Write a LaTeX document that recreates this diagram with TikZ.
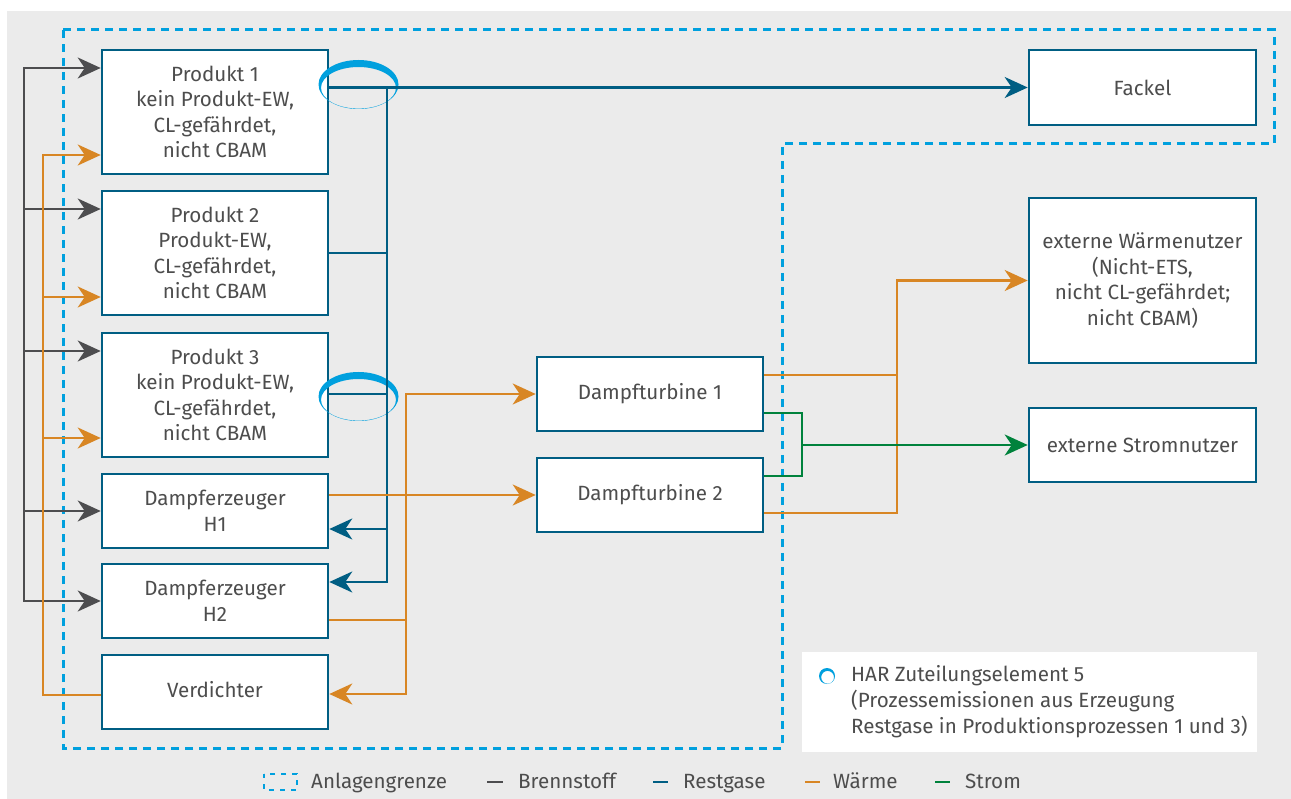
\documentclass[tikz,border=0pt]{standalone}
\usepackage{fontspec}
\setmainfont{Fira Sans}
\usetikzlibrary{arrows.meta}
\definecolor{bgc}{RGB}{235,235,235}
\definecolor{boxc}{RGB}{0,94,131}
\definecolor{fuelc}{RGB}{77,77,79}
\definecolor{heatc}{RGB}{216,134,36}
\definecolor{powc}{RGB}{0,130,60}
\definecolor{limc}{RGB}{0,160,222}
\definecolor{txtc}{RGB}{77,77,77}
\begin{document}
\begin{tikzpicture}[x=1pt,y=-1pt,
  box/.style={draw=boxc, line width=2.6pt, fill=white, minimum width=226pt, align=center,
    text=txtc, font=\fontsize{20.6}{25.5}\selectfont, inner sep=0pt},
  conn/.style={line width=2.6pt},
  fuel/.style={conn, draw=fuelc},
  rest/.style={conn, draw=boxc},
  heat/.style={conn, draw=heatc},
  pow/.style={conn, draw=powc},
  tip/.style={-{Stealth[length=23pt,width=21pt,inset=7pt]}},
  leg/.style={text=txtc, font=\fontsize{20.6}{26}\selectfont, inner sep=0pt},
  boundary/.style={draw=limc, line width=3pt, dash pattern=on 8pt off 6pt}]
\useasboundingbox (0,0) rectangle (1291,799);
\fill[bgc] (7,11) rectangle (1291,799);

% installation boundary
\draw[boundary] (63,30) -- (1274,30) -- (1274,144) -- (782,144) -- (782,748) -- (63,748) -- cycle;

% boxes
\node[box, minimum height=124pt] (P1) at (215,112) {Produkt 1\\kein Produkt-EW,\\CL-gefährdet,\\nicht CBAM};
\node[box, minimum height=124pt] (P2) at (215,253) {Produkt 2\\Produkt-EW,\\CL-gefährdet,\\nicht CBAM};
\node[box, minimum height=124pt] (P3) at (215,395) {Produkt 3\\kein Produkt-EW,\\CL-gefährdet,\\nicht CBAM};
\node[box, minimum height=74pt] (H1) at (215,511) {Dampferzeuger\\H1};
\node[box, minimum height=74pt] (H2) at (215,601) {Dampferzeuger\\H2};
\node[box, minimum height=74pt, text depth=6pt] (V) at (215,692) {Verdichter};
\node[box, minimum height=74pt] (DT1) at (650,394) {Dampfturbine 1};
\node[box, minimum height=74pt] (DT2) at (650,495) {Dampfturbine 2};
\node[box, minimum width=227pt, minimum height=75pt] (F) at (1142.5,87.5) {Fackel};
\node[box, minimum width=227pt, minimum height=165pt] (WN) at (1142.5,280.5) {externe Wärmenutzer\\(Nicht-ETS,\\nicht CL-gefährdet;\\nicht CBAM)};
\node[box, minimum width=227pt, minimum height=74pt] (SN) at (1142.5,445) {externe Stromnutzer};

% HAR markers
\fill[limc, even odd rule] (358.5,84.5) ellipse [x radius=40pt, y radius=24.5pt]
  (358.5,87.8) ellipse [x radius=37.5pt, y radius=20.8pt];
\fill[limc, even odd rule] (358.5,396.5) ellipse [x radius=40pt, y radius=24.5pt]
  (358.5,399.8) ellipse [x radius=37.5pt, y radius=20.8pt];

% Brennstoff
\coordinate (f1) at (24,68);
\coordinate (f2) at (24,209);
\coordinate (f3) at (24,351);
\coordinate (f4) at (24,511);
\coordinate (f5) at (24,601);
\draw[fuel,tip] (f5) -- (f1) -- (f1 -| P1.west);
\draw[fuel,tip] (f1) -- (f5) -- (f5 -| H2.west);
\draw[fuel,tip] (f2) -- (f2 -| P2.west);
\draw[fuel,tip] (f3) -- (f3 -| P3.west);
\draw[fuel,tip] (f4) -- (f4 -| H1.west);

% Waerme (Verdichter -> Produkte)
\coordinate (w1) at (43,155);
\coordinate (w2) at (43,297);
\coordinate (w3) at (43,438);
\coordinate (w4) at (43,695);
\draw[heat,tip] (V.west |- w4) -- (w4) -- (w1) -- (w1 -| P1.west);
\draw[heat,tip] (w2) -- (w2 -| P2.west);
\draw[heat,tip] (w3) -- (w3 -| P3.west);

% Restgase
\coordinate (r1) at (387,87.5);
\coordinate (r2) at (387,253);
\coordinate (r3) at (387,394);
\coordinate (r4) at (387,529);
\coordinate (r5) at (387,582);
\draw[rest,tip] (P1.east |- F.west) -- (F.west);
\draw[rest,tip] (r1) -- (r5) -- (r5 -| H2.east);
\draw[rest] (P2.east |- r2) -- (r2);
\draw[rest] (P3.east |- r3) -- (r3);
\draw[rest,tip] (r4) -- (r4 -| H1.east);

% Waerme (Dampferzeuger)
\coordinate (m1) at (406,394);
\coordinate (m2) at (406,620);
\coordinate (m3) at (406,694);
\draw[heat,tip] (H1.east |- DT2.west) -- (DT2.west);
\draw[heat] (H2.east |- m2) -- (m2);
\draw[heat,tip] (m3) -- (m1) -- (DT1.west);
\draw[heat,tip] (m1) -- (m3) -- (m3 -| V.east);

% Waerme (Dampfturbinen -> externe)
\coordinate (o1) at (897,375);
\coordinate (o2) at (897,513);
\draw[heat] (DT1.east |- o1) -- (o1);
\draw[heat,tip] (DT2.east |- o2) -- (o2) -- (o2 |- WN.west) -- (WN.west);

% Strom
\coordinate (s1) at (802,413);
\coordinate (s2) at (802,476);
\draw[pow] (DT1.east |- s1) -- (s1) -- (s2) -- (DT2.east |- s2);
\draw[pow,tip] (s1 |- SN.west) -- (SN.west);

% HAR legend box
\fill[white] (802,652) rectangle (1257,752);
\fill[limc, even odd rule] (827,676) circle [radius=8pt] (827.6,677.3) circle [radius=6.4pt];
\node[leg, anchor=west, align=left] (hartxt) at (851,702) {HAR Zuteilungselement 5\\(Prozessemissionen aus Erzeugung\\Restgase in Produktionsprozessen 1 und 3)};

% bottom legend
\draw[draw=limc, line width=2.6pt, dash pattern=on 5pt off 6pt, dash phase=1pt] (264,774) rectangle (297,790);
\node[leg, anchor=base west] (l1) at (311,788) {Anlagengrenze};
\draw[fuel] (487,782) -- (503,782);
\node[leg, anchor=base west] (l2) at (518,788) {Brennstoff};
\draw[rest] (653,782) -- (668,782);
\node[leg, anchor=base west] (l3) at (683,788) {Restgase};
\draw[heat] (805,782) -- (820,782);
\node[leg, anchor=base west] (l4) at (833,788) {Wärme};
\draw[pow] (935,782) -- (950,782);
\node[leg, anchor=base west] (l5) at (965,788) {Strom};
\end{tikzpicture}
\end{document}
